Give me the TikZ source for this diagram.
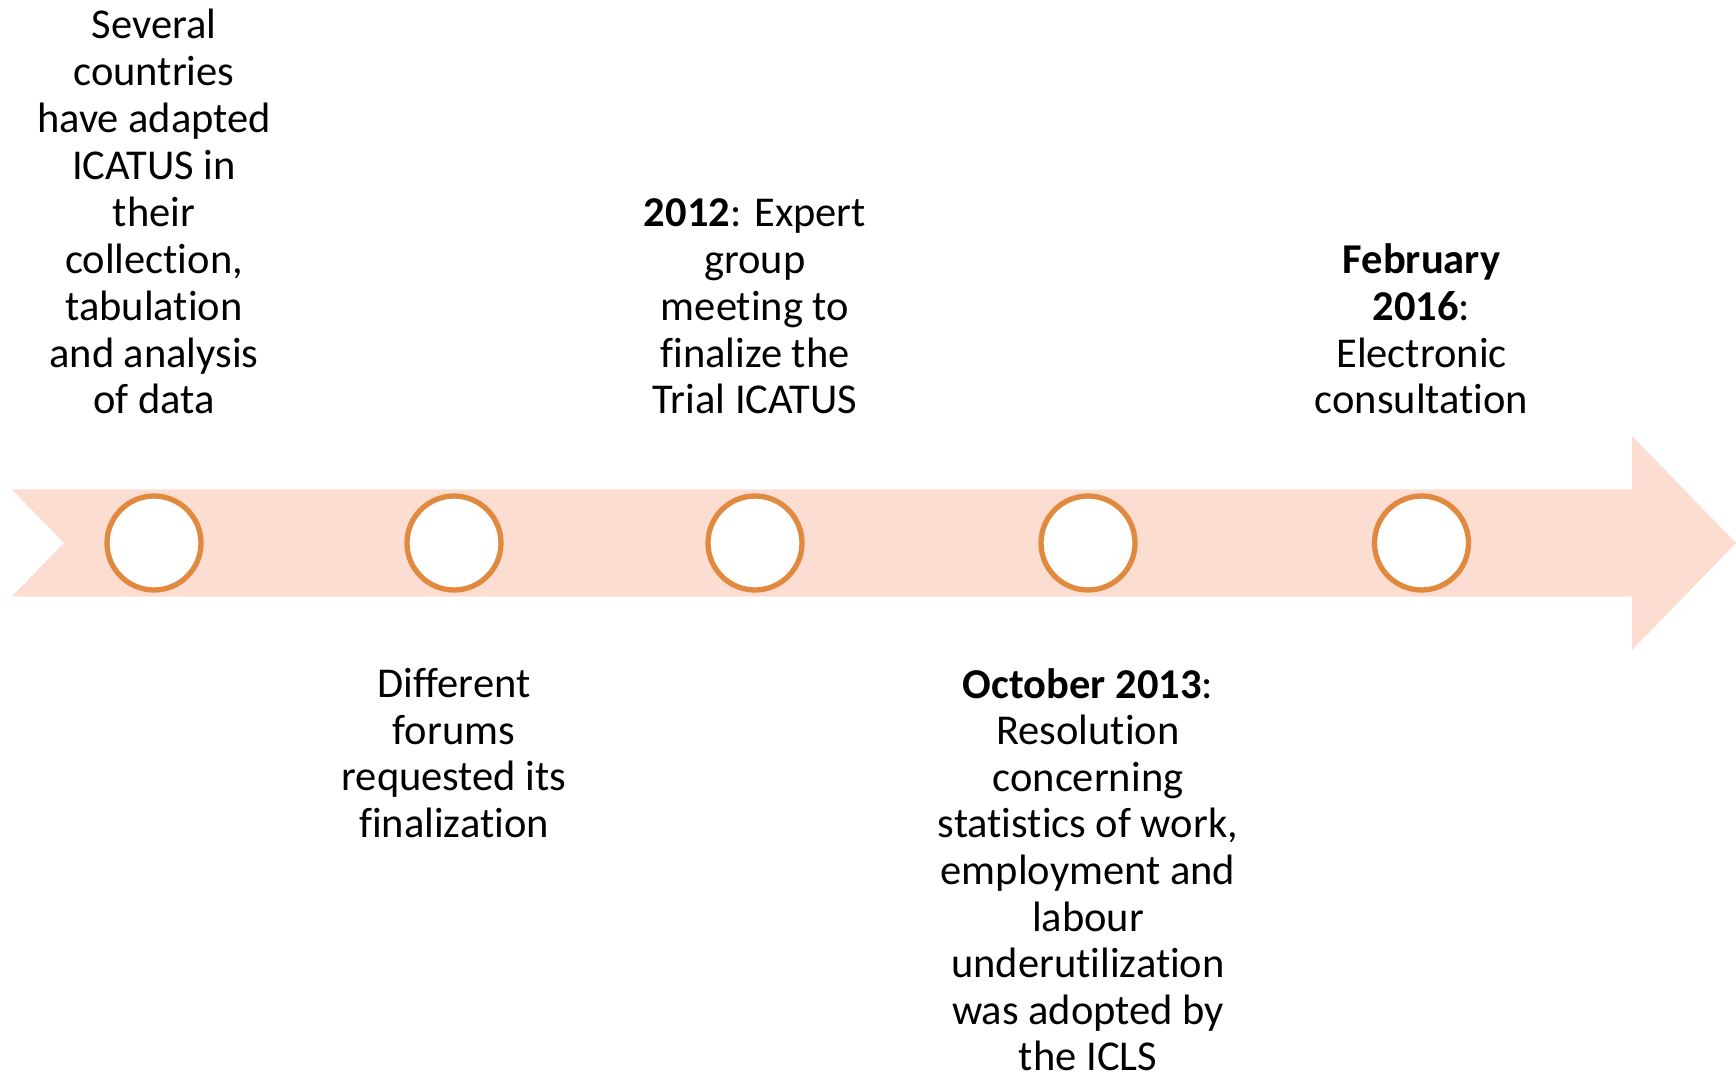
\documentclass[tikz,border=0pt]{standalone}
\usepackage{fontspec}
\setmainfont{Carlito}[RawFeature={-liga;-clig;-calt;-dlig}]
\definecolor{bandfill}{RGB}{252,221,210}
\definecolor{ringcol}{RGB}{225,137,62}
\begin{document}
\begin{tikzpicture}[x=1pt,y=-1pt,
  ring/.style={circle,draw=ringcol,line width=5.3pt,fill=white,minimum size=94pt,inner sep=0pt},
  txt/.style={align=center,inner sep=0pt,font=\fontsize{42.5}{46.6}\selectfont},
  toptxt/.style={txt,anchor=south,font=\fontsize{42.5}{46.9}\selectfont}]
\useasboundingbox (0,0) rectangle (1736,1076);
\fill[bandfill] (11.7,489.3) -- (1632,489.3) -- (1632,436) -- (1736,543) -- (1632,650) -- (1632,596.7) -- (11.7,596.7) -- (64,543) -- cycle;
\node[ring] (c1) at (154,543) {};
\node[ring] (c2) at (454,543) {};
\node[ring] (c3) at (755,543) {};
\node[ring] (c4) at (1088,543) {};
\node[ring] (c5) at (1421.5,543) {};
\node[toptxt] (t1) at (154,414.5) {Several\\countries\\have adapted\\ICATUS in\\their\\collection,\\tabulation\\and analysis\\of data};
\node[toptxt] (t3) at (755,414.5) {\textbf{2012}: Expert\\group\\meeting to\\finalize the\\Trial ICATUS};
\node[toptxt] (t5) at (1421.5,414.5) {\textbf{February}\\\textbf{2016}:\\Electronic\\consultation};
\node[txt,anchor=north] (t2) at (454,668) {Different\\forums\\requested its\\finalization};
\node[txt,anchor=north] (t4) at (1088,668) {\textbf{October 2013}:\\Resolution\\concerning\\statistics of work,\\employment and\\labour\\underutilization\\was adopted by\\the ICLS};
\end{tikzpicture}
\end{document}
